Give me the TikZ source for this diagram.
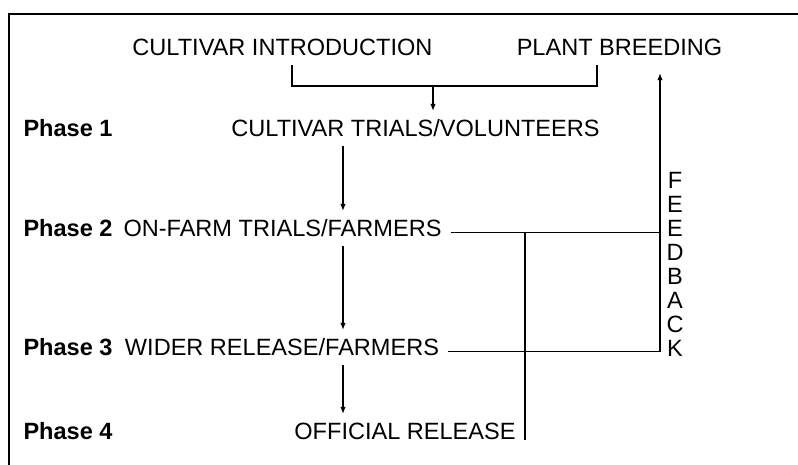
\documentclass[tikz,border=0pt]{standalone}
\usepackage{fontspec}
\setmainfont{Liberation Sans}
\usetikzlibrary{positioning,arrows.meta,calc}

\begin{document}
\begin{tikzpicture}[font=\fontsize{13.4}{16}\selectfont,line width=0.6pt,
    >={Latex[length=1.4mm,width=1.1mm]},
    lbl/.style={anchor=base,text height=9.6pt,text depth=0pt,inner xsep=5pt,inner ysep=5pt},
    phase/.style={anchor=base west,inner sep=0pt,font=\fontsize{13.4}{16}\selectfont\bfseries}]
  \useasboundingbox (0,0) rectangle (15.96,9.3);
  % frame, cut off on the right and below
  \draw (15.96,9.02) -- (0.18,9.02) -- (0.18,0);

  \node[lbl] (intro) at (5.65,8.18) {CULTIVAR INTRODUCTION};
  \node[lbl] (breed) at (12.39,8.18) {PLANT BREEDING};
  \node[lbl] (trials) at (8.31,6.56) {CULTIVAR TRIALS/VOLUNTEERS};
  \node[lbl] (onfarm) at (5.65,4.56) {ON-FARM TRIALS/FARMERS};
  \node[lbl] (wider) at (5.64,2.18) {WIDER RELEASE/FARMERS};
  \node[lbl] (official) at (8.1,0.5) {OFFICIAL RELEASE};
  \node[align=center,font=\fontsize{13.4}{13.7}\selectfont] (fback) at (13.5,4.01)
    {F\\E\\E\\D\\B\\A\\C\\K};
  \foreach \n/\y in {1/6.56,2/4.56,3/2.18,4/0.5}
    \node[phase] (ph\n) at (0.46,\y) {Phase \n};

  % both sources join into the trials
  \coordinate (bl) at (5.84,7.58);
  \coordinate (br) at (11.94,7.58);
  \coordinate (bm) at (8.66,7.58);
  \draw (bl |- intro.south) -- (bl) -- (br) -- (br |- breed.south);
  \draw[->] (bm) -- (bm |- trials.north);

  % main line down the phases
  \coordinate (ax) at (6.86,0);
  \draw[->] (ax |- trials.south) -- (ax |- onfarm.north);
  \draw[->] (ax |- onfarm.south) -- (ax |- wider.north);
  \draw[->] (ax |- wider.south) -- (ax |- official.north);

  % feedback
  \coordinate (fx) at (13.2,0);
  \coordinate (rx) at (10.5,0);
  \coordinate (l2) at ([yshift=-2.5pt]onfarm.east);
  \coordinate (l3) at ([yshift=-2.5pt]wider.east);
  \draw (l2) -- (l2 -| fx);
  \draw[->,shorten >=4.5pt] (l3) -| (fx |- breed.south);
  \draw (l2 -| rx) -- (rx |- official.base);
\end{tikzpicture}
\end{document}
